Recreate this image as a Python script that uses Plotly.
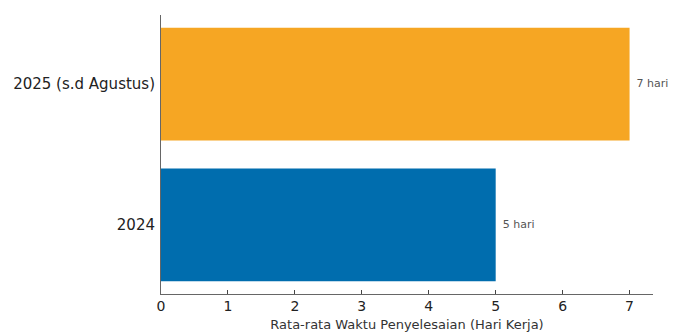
import plotly.graph_objects as go

categories = ["2024", "2025 (s.d Agustus)"]
values = [5, 7]
labels = ["5 hari", "7 hari"]
colors = ["#006DAE", "#F6A623"]
x_title = "Rata-rata Waktu Penyelesaian (Hari Kerja)"

fig = go.Figure()
fig.add_trace(go.Bar(
    y=categories, x=values, orientation="h",
    marker=dict(color=colors, line=dict(width=0)),
    width=0.8, showlegend=False,
))
fig.add_trace(go.Scatter(
    y=categories, x=values, mode="text", text=labels,
    textposition="middle right",
    texttemplate="  %{text}",
    textfont=dict(family="DejaVu Sans", size=11, color="#555555"),
    showlegend=False, hoverinfo="skip", cliponaxis=False,
))

fig.update_layout(
    width=673, height=332,
    margin=dict(l=161, r=20, t=15, b=38, autoexpand=False),
    paper_bgcolor="white", plot_bgcolor="white",
    font=dict(family="DejaVu Sans", color="#222222"),
    xaxis=dict(
        range=[0, 7.35], dtick=1, showgrid=False, zeroline=False,
        showline=True, linecolor="#666666", linewidth=1,
        ticks="inside", ticklen=4, tickcolor="#444444",
        ticklabelstandoff=-1,
        tickfont=dict(size=14, color="#222222"),
        title=dict(text=x_title, font=dict(size=13, color="#333333"), standoff=7),
        automargin=False,
    ),
    yaxis=dict(
        type="category", range=[-0.49, 1.49], showgrid=False, zeroline=False,
        showline=True, linecolor="#666666", linewidth=1,
        ticks="", ticklabelstandoff=2, tickfont=dict(size=15, color="#222222"),
        automargin=False,
    ),
)

fig.write_html("out.html")
